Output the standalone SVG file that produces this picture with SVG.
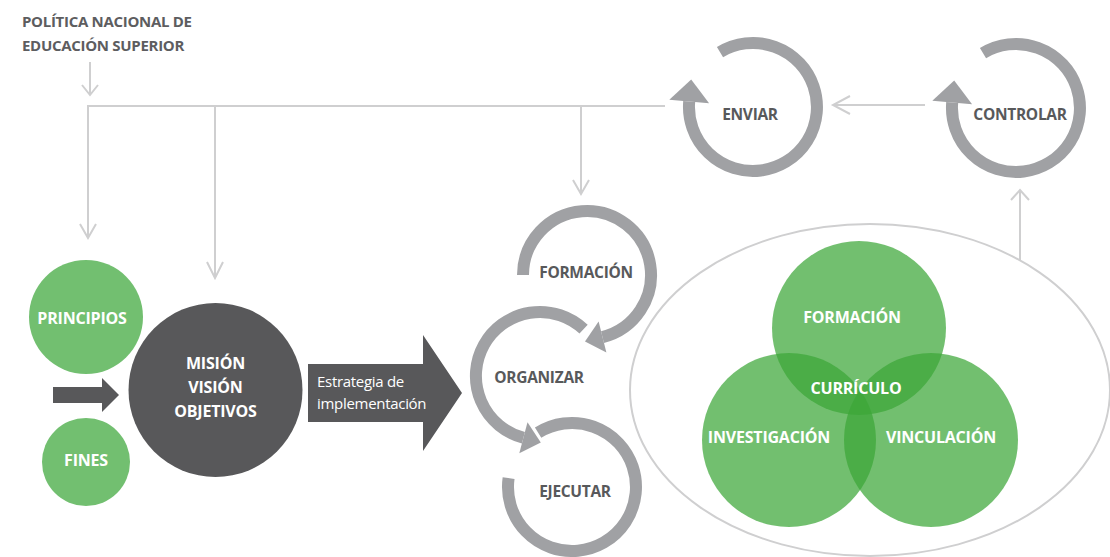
<svg xmlns="http://www.w3.org/2000/svg" width="1110" height="557" viewBox="0 0 1110 557">
<style>
.lbl{font-family:"Open Sans","Liberation Sans",sans-serif;font-weight:bold;font-size:15.5px;fill:#58595b;text-anchor:middle;letter-spacing:-0.3px}
.wl{font-family:"Open Sans","Liberation Sans",sans-serif;font-weight:bold;font-size:16px;fill:#ffffff;text-anchor:middle;letter-spacing:-0.2px}
.title{font-family:"Open Sans","Liberation Sans",sans-serif;font-weight:bold;font-size:15px;fill:#5d5d5f;letter-spacing:-0.3px}
.reg{font-family:"Open Sans","Liberation Sans",sans-serif;font-size:15px;fill:#ffffff;letter-spacing:-0.3px}
.con{fill:none;stroke:#cfcfd0;stroke-width:2}
.ring{fill:none;stroke:#a0a1a4;stroke-width:12}
.head{fill:#a0a1a4}
.venn{fill:#3ba638;fill-opacity:0.72}
.green{fill:#72bf70}
.dark{fill:#58585a}
</style>
<rect width="1110" height="557" fill="#ffffff"/>
<g id="title">
<text class="title" x="22" y="27">POLÍTICA NACIONAL DE</text>
<text class="title" x="22" y="51">EDUCACIÓN SUPERIOR</text>
</g>
<g id="connectors">
<line class="con" x1="90" y1="62" x2="90" y2="94"/>
<polyline class="con" points="82,85 90,95 98,85"/>
<line class="con" x1="88" y1="106" x2="665" y2="106"/>
<line class="con" x1="88" y1="105" x2="88" y2="238"/>
<polyline class="con" points="80,224 88,238 96,224"/>
<line class="con" x1="215" y1="105" x2="215" y2="278"/>
<polyline class="con" points="207,262 215,278 223,262"/>
<line class="con" x1="581" y1="105" x2="581" y2="194"/>
<polyline class="con" points="573,180 581,194 589,180"/>
<line class="con" x1="925" y1="105" x2="834" y2="105"/>
<polyline class="con" points="850,96 833,105 850,114"/>
<line class="con" x1="1020" y1="260" x2="1020" y2="191"/>
<polyline class="con" points="1011,200 1020,190 1029,200"/>
</g>
<g id="curriculo-ellipse">
<ellipse cx="870" cy="390" rx="240" ry="166" fill="none" stroke="#cfcfd0" stroke-width="2"/>
</g>
<g id="enviar">
<path class="ring" d="M720,52.1 A64,64 0 1 1 689.2,101.4"/>
<polygon class="head" points="669.3,99.7 691.2,79.5 709.1,103.2"/>
<text class="lbl" x="750" y="120">ENVIAR</text>
</g>
<g id="controlar">
<path class="ring" d="M983,53.1 A64,64 0 1 1 952.2,102.4"/>
<polygon class="head" points="932.3,100.7 954.2,80.5 972.1,104.2"/>
<text class="lbl" x="1020" y="120">CONTROLAR</text>
</g>
<g id="formacion-ring">
<path class="ring" d="M523,275 A64,64 0 1 1 602.5,337.1"/>
<polygon class="head" points="606.4,352.6 585,341.5 598.6,321.6"/>
<text class="lbl" x="586" y="278">FORMACIÓN</text>
</g>
<g id="organizar">
<path class="ring" d="M583.6,329.2 A64,64 0 1 0 523.4,437.8"/>
<polygon class="head" points="519.3,453.3 540.8,442.5 527.5,422.3"/>
<text class="lbl" x="539" y="383">ORGANIZAR</text>
</g>
<g id="ejecutar">
<path class="ring" d="M538.1,432.7 A64,64 0 1 1 508.6,478.1"/>
<text class="lbl" x="575" y="497">EJECUTAR</text>
</g>
<g id="venn">
<circle class="venn" cx="859" cy="328" r="87"/>
<circle class="venn" cx="789" cy="440" r="87"/>
<circle class="venn" cx="931" cy="440" r="87"/>
<text class="wl" x="852" y="323">FORMACIÓN</text>
<text class="wl" x="856" y="394">CURRÍCULO</text>
<text class="wl" x="769" y="443">INVESTIGACIÓN</text>
<text class="wl" x="941" y="443">VINCULACIÓN</text>
</g>
<g id="principios">
<circle class="green" cx="86" cy="317" r="57"/>
<text class="wl" x="82" y="324">PRINCIPIOS</text>
</g>
<g id="fines">
<circle class="green" cx="86" cy="462" r="44"/>
<text class="wl" x="86" y="466">FINES</text>
</g>
<g id="input-arrow">
<polygon class="dark" points="53,387 102,387 102,378 119,395 102,412 102,403 53,403"/>
</g>
<g id="mision">
<circle class="dark" cx="215.5" cy="390" r="87"/>
<text class="wl" x="215.5" y="369">MISIÓN</text>
<text class="wl" x="215.5" y="393">VISIÓN</text>
<text class="wl" x="215.5" y="417">OBJETIVOS</text>
</g>
<g id="estrategia">
<polygon class="dark" points="308,364 423,364 423,335 462,393 423,451 423,422 308,422"/>
<text class="reg" x="317" y="387">Estrategia de</text>
<text class="reg" x="317" y="409">implementación</text>
</g>
</svg>
